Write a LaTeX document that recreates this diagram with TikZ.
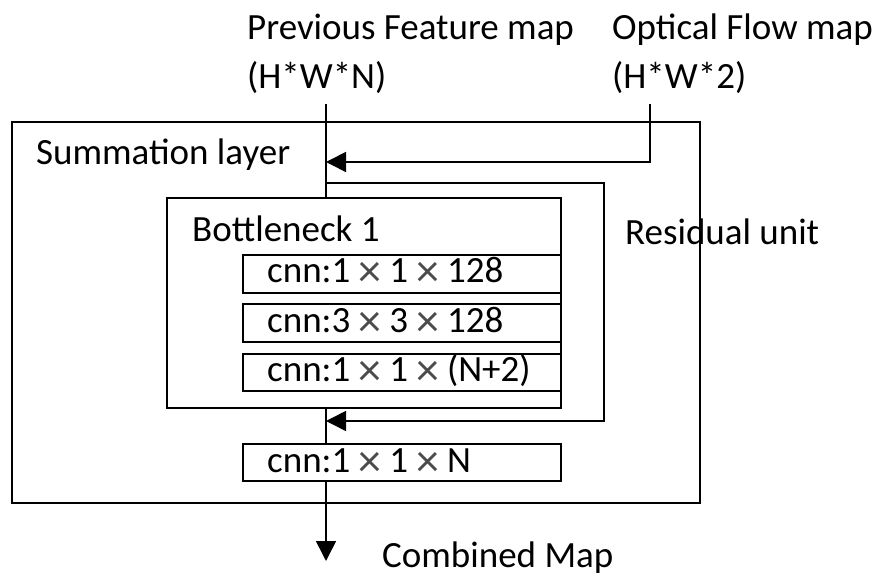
\documentclass[tikz,border=0pt]{standalone}
\usepackage{fontspec}
\setmainfont{Carlito}
\usetikzlibrary{arrows.meta,calc}

% multiplication sign set a little larger and lighter, with room on both sides
\newcommand\tms{\makebox[39pt]{\raisebox{-4pt}{\color{black!70}\fontsize{46}{46}\selectfont ×}}}

\tikzset{
  line/.style={line width=1.6pt, draw=black},
  box/.style={draw, line width=1.6pt, rectangle, inner sep=0pt, anchor=north west},
  txt/.style={anchor=base west, inner sep=0pt, font=\fontsize{37}{37}\selectfont},
  tip/.style={-{Triangle[length=20pt,width=20pt]}}
}

\begin{document}
\begin{tikzpicture}[x=1pt,y=-1pt]
  \useasboundingbox (0,0) rectangle (878,577);

  % input labels
  \node[txt] (pf1) at (247,40) {Previous Feature map};
  \node[txt] (pf2) at (247,89) {(H*W*N)};
  \node[txt] (of1) at (612,40) {Optical Flow map};
  \node[txt] (of2) at (612,89) {(H*W*2)};

  % boxes
  \node[box, minimum width=688pt, minimum height=381pt] (outer) at (11,121) {};
  \node[box, minimum width=394pt, minimum height=210pt] (bn) at (166,197) {};
  \node[box, minimum width=318pt, minimum height=38pt] (c1) at (242,254) {};
  \node[box, minimum width=318pt, minimum height=38pt] (c2) at (242,303) {};
  \node[box, minimum width=318pt, minimum height=37pt] (c3) at (242,353) {};
  \node[box, minimum width=318pt, minimum height=37pt] (c4) at (242,443) {};

  % box labels
  \node[txt] (sum) at (36,165) {Summation layer};
  \node[txt] (bnl) at (192,242) {Bottleneck 1};
  \node[txt] (res) at (625,245) {Residual unit};
  \node[txt] (t1) at (267,283) {cnn:1\tms 1\tms 128};
  \node[txt] (t2) at (267,332) {cnn:3\tms 3\tms 128};
  \node[txt] (t3) at (267,381) {cnn:1\tms 1\tms (N+2)};
  \node[txt] (t4) at (267,472) {cnn:1\tms 1\tms N};
  \node[txt] (cm) at (382,567) {Combined Map};

  % connector end points
  \coordinate (pfin) at (326,104);
  \coordinate (ofin) at (650,104);
  \coordinate (sumpt) at (326,162);
  \coordinate (resout) at (326,183);
  \coordinate (resin) at (326,421);
  \coordinate (out) at (326,561);

  % main data path
  \draw[line] (pfin) -- (pfin |- bn.north);
  \draw[line] (pfin |- bn.south) -- (pfin |- c4.north);
  \draw[line, tip] (pfin |- c4.south) -- (out);

  % optical flow into the summation
  \draw[line, tip] (ofin) |- (sumpt);

  % residual shortcut
  \draw[line, tip] (resout) -- (604,183) -- (604,421) -- (resin);
\end{tikzpicture}
\end{document}
